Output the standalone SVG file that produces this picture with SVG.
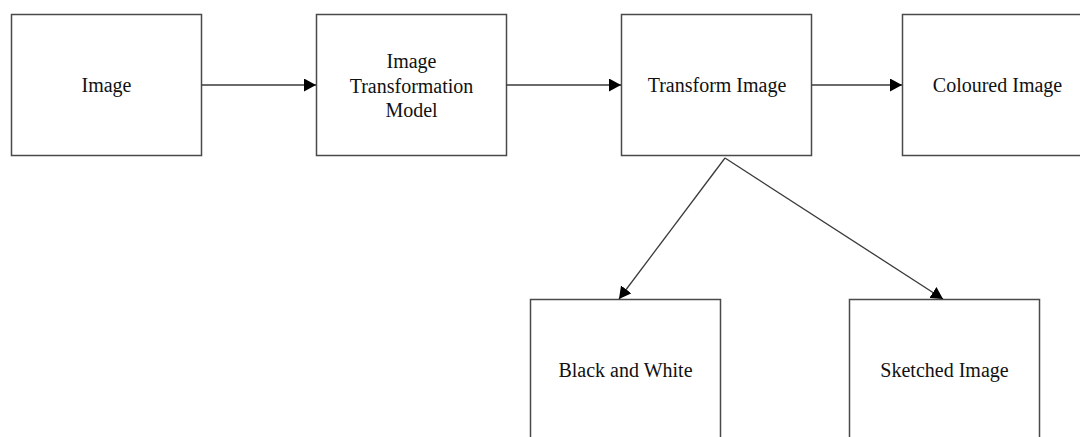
<svg xmlns="http://www.w3.org/2000/svg" width="1080" height="437" viewBox="0 0 1080 437">
<style>
.box{fill:#fff;stroke:#4a4a4a;stroke-width:1.5}
.lbl{font-family:"Liberation Serif","Times New Roman",serif;font-size:20px;fill:#111;text-anchor:middle}
.conn{stroke:#3a3a3a;stroke-width:1.3;fill:none}
</style>
<defs>
<marker id="ah" markerUnits="userSpaceOnUse" markerWidth="13" markerHeight="13" refX="12" refY="6.5" orient="auto">
<path d="M0,0 L12,6.5 L0,13 Z" fill="#000"/>
</marker>
</defs>
<rect width="1080" height="437" fill="#fff"/>
<g id="image">
<rect class="box" x="11.5" y="14.5" width="190" height="141"/>
<text class="lbl" x="106.5" y="92">Image</text>
</g>
<g id="model">
<rect class="box" x="316.5" y="14.5" width="190" height="141"/>
<text class="lbl" x="411.5" y="68">Image</text>
<text class="lbl" x="411.5" y="93">Transformation</text>
<text class="lbl" x="411.5" y="117">Model</text>
</g>
<g id="transform">
<rect class="box" x="621.5" y="14.5" width="190" height="141"/>
<text class="lbl" x="717" y="92">Transform Image</text>
</g>
<g id="coloured">
<rect class="box" x="902.5" y="14.5" width="190" height="141"/>
<text class="lbl" x="997.5" y="92">Coloured Image</text>
</g>
<g id="bw">
<rect class="box" x="530.5" y="299.5" width="190" height="142"/>
<text class="lbl" x="625.5" y="377">Black and White</text>
</g>
<g id="sketched">
<rect class="box" x="849.5" y="299.5" width="190" height="142"/>
<text class="lbl" x="944.5" y="377">Sketched Image</text>
</g>
<g id="connectors">
<line class="conn" x1="201.5" y1="85" x2="316" y2="85" marker-end="url(#ah)"/>
<line class="conn" x1="506.5" y1="85" x2="621" y2="85" marker-end="url(#ah)"/>
<line class="conn" x1="811.5" y1="85" x2="902" y2="85" marker-end="url(#ah)"/>
<line class="conn" x1="725" y1="158" x2="619" y2="299" marker-end="url(#ah)"/>
<line class="conn" x1="725" y1="158" x2="943" y2="299" marker-end="url(#ah)"/>
</g>
</svg>
